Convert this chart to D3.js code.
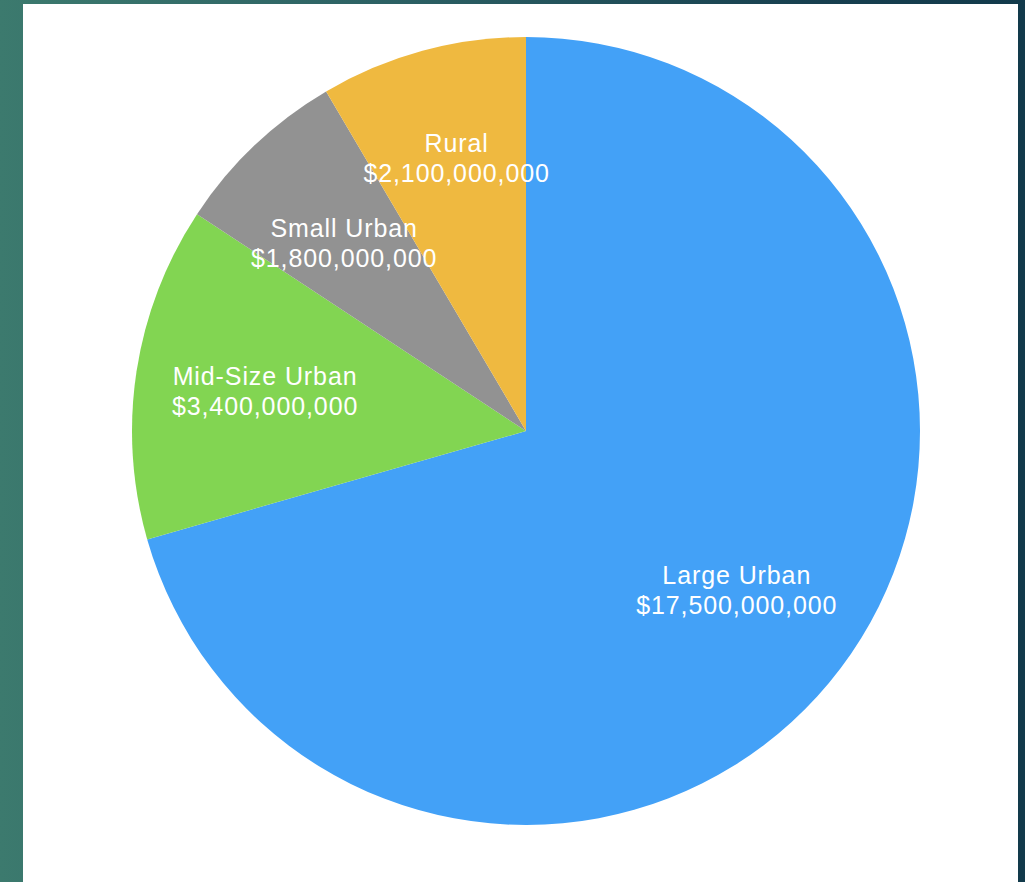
<!DOCTYPE html>
<html>
<head>
<meta charset="utf-8">
<script src="https://cdn.jsdelivr.net/npm/d3@7"></script>
<style>
  html, body { margin: 0; padding: 0; width: 1025px; height: 882px; overflow: hidden; }
  body { background: linear-gradient(90deg, #3c7a6e 0%, #2b5f63 40%, #173f4f 80%, #123a4b 100%); }
  #panel { position: absolute; left: 23px; top: 4px; width: 995px; height: 878px; background: #ffffff; }
  svg { position: absolute; left: 0; top: 0; }
</style>
</head>
<body>
<div id="panel"></div>
<svg id="chart" width="1025" height="882"></svg>
<script>
const categories = ["Large Urban", "Mid-Size Urban", "Small Urban", "Rural"];
const values = [17500000000, 3400000000, 1800000000, 2100000000];
const colors = ["#43a1f7", "#82d552", "#929292", "#efb940"];

const svg = d3.select("#chart");
const cx = 526, cy = 431, radius = 394;
const g = svg.append("g").attr("transform", `translate(${cx},${cy})`);

const data = categories.map((c, i) => ({ name: c, value: values[i], color: colors[i] }));
const pie = d3.pie().value(d => d.value).sort(null);
const arc = d3.arc().innerRadius(0).outerRadius(radius);
const labelArc = d3.arc().innerRadius(radius * 0.67).outerRadius(radius * 0.67);

const arcs = pie(data);
g.selectAll("path").data(arcs).enter().append("path")
  .attr("d", arc)
  .attr("fill", d => d.data.color);

// label positions with simple vertical separation for crowded labels
// (the upper label yields most of the way)
const pos = arcs.map(d => labelArc.centroid(d));
const minSep = 85, halfW = 110, upShare = 0.85;
for (let iter = 0; iter < 10; iter++) {
  for (let i = 0; i < pos.length; i++) {
    for (let j = i + 1; j < pos.length; j++) {
      const a = pos[i], b = pos[j];
      if (Math.abs(a[0] - b[0]) < 2 * halfW) {
        const upper = a[1] <= b[1] ? a : b;
        const lower = upper === a ? b : a;
        const gap = lower[1] - upper[1];
        if (gap < minSep) {
          const need = minSep - gap;
          upper[1] -= need * upShare;
          lower[1] += need * (1 - upShare);
        }
      }
    }
  }
}

const fmt = d3.format("$,");
const labels = g.selectAll("text.lbl").data(arcs).enter().append("text")
  .attr("class", "lbl")
  .attr("transform", (d, i) => `translate(${pos[i]})`)
  .attr("text-anchor", "middle")
  .attr("font-family", "'Liberation Sans', Arial, Helvetica, sans-serif")
  .attr("font-size", 25)
  .attr("letter-spacing", 0.9)
  .attr("fill", "#ffffff");
labels.append("tspan").attr("x", 0).attr("dy", "-0.25em").text(d => d.data.name);
labels.append("tspan").attr("x", 0).attr("dy", "1.2em").text(d => fmt(d.data.value));
</script>
</body>
</html>
